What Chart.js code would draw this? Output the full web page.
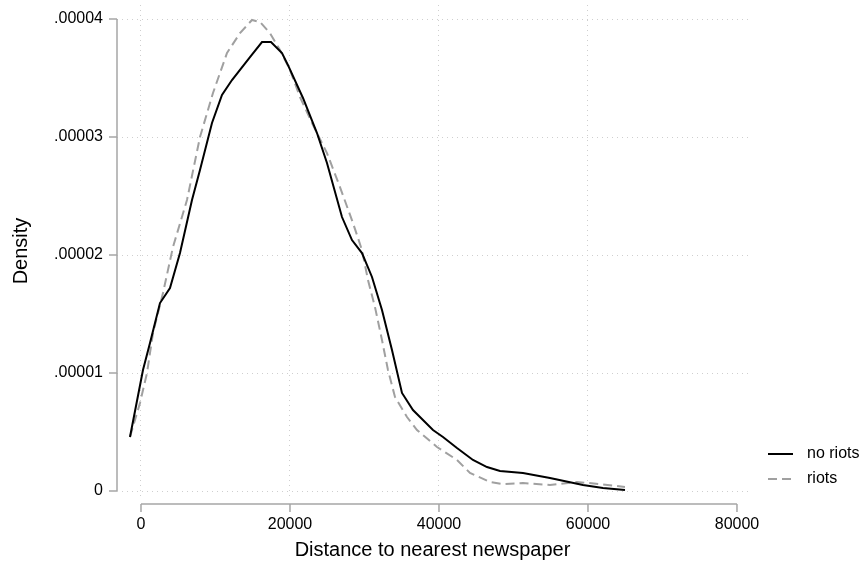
<!DOCTYPE html>
<html>
<head>
<meta charset="utf-8">
<script src="https://cdn.jsdelivr.net/npm/chart.js@4.4.1/dist/chart.umd.min.js"></script>
<style>
  html, body { margin: 0; padding: 0; background: #fff; }
  #wrap { width: 865px; height: 565px; }
</style>
</head>
<body>
<div id="wrap"><canvas id="grafico" width="865" height="565"></canvas></div>
<script>
// Dados (densidade kernel)
const distNoRiots = [-1477, 268, 1208, 2550, 3893, 5235, 6846, 7919, 9530, 10872, 12215, 14631, 16242, 17450,
  18926, 19732, 21745, 23624, 24966, 26980, 28322, 29664, 31007, 32349, 33691, 35034, 36510, 39195,
  40537, 42416, 44564, 46443, 48188, 51275, 54899, 59329, 62013, 64966];
const densNoRiots = [0.458, 1.025, 1.254, 1.593, 1.720, 2.017, 2.466, 2.720, 3.119, 3.356, 3.483, 3.678, 3.805, 3.805,
  3.712, 3.610, 3.331, 3.034, 2.780, 2.322, 2.127, 2.017, 1.814, 1.534, 1.195, 0.831, 0.686, 0.517,
  0.458, 0.364, 0.263, 0.203, 0.169, 0.153, 0.110, 0.051, 0.025, 0.008];

const distRiots = [-1477, -134, 805, 1611, 2953, 4295, 6174, 7919, 9664, 11544, 13289, 14899, 15973, 17315,
  18658, 20000, 21342, 23087, 24966, 26711, 28456, 29664, 30470, 31409, 32349, 33154, 34094, 35705,
  37047, 39732, 42416, 44161, 46846, 48591, 51275, 54899, 58523, 61611, 64966];
const densRiots = [0.458, 0.746, 1.000, 1.339, 1.678, 2.068, 2.466, 3.000, 3.373, 3.712, 3.881, 3.992, 3.975, 3.881,
  3.737, 3.568, 3.339, 3.102, 2.864, 2.576, 2.271, 2.042, 1.788, 1.559, 1.280, 1.025, 0.797, 0.627,
  0.517, 0.373, 0.263, 0.153, 0.076, 0.059, 0.068, 0.051, 0.076, 0.059, 0.034];

const xTicks = [0, 20000, 40000, 60000, 80000];
const yTicks = [0, 0.00001, 0.00002, 0.00003, 0.00004];

const seriesLabels = ['no riots', 'riots'];

// monta pares {x, y} (densidade em unidades de 1e-5)
function pontos(xs, ys) {
  return xs.map((x, i) => ({ x: x, y: ys[i] * 1e-5 }));
}

const FONTE = '"Liberation Sans", Arial, Helvetica, sans-serif';
const CINZA_EIXO = '#a6a6a6';
const CINZA_GRADE = '#cfcfcf';

// ==================== Eixos e legenda (estilo Stata) ====================
const eixosPlugin = {
  id: 'eixosStata',
  afterDraw(chart) {
    const { ctx, chartArea, scales } = chart;
    const xs = scales.x, ys = scales.y;
    ctx.save();
    ctx.strokeStyle = CINZA_EIXO;
    ctx.lineWidth = 1.5;
    ctx.setLineDash([]);

    // eixo y
    const yTop = ys.getPixelForValue(yTicks[yTicks.length - 1]);
    const yBot = ys.getPixelForValue(yTicks[0]);
    ctx.beginPath();
    ctx.moveTo(chartArea.left, yTop);
    ctx.lineTo(chartArea.left, yBot);
    yTicks.forEach(v => {
      const p = ys.getPixelForValue(v);
      ctx.moveTo(chartArea.left - 8, p);
      ctx.lineTo(chartArea.left, p);
    });
    ctx.stroke();

    // eixo x (deslocado abaixo da área)
    const yEixo = chartArea.bottom + 7;
    const xIni = xs.getPixelForValue(xTicks[0]);
    const xFim = xs.getPixelForValue(xTicks[xTicks.length - 1]);
    ctx.beginPath();
    ctx.moveTo(xIni, yEixo);
    ctx.lineTo(xFim, yEixo);
    xTicks.forEach(v => {
      const p = xs.getPixelForValue(v);
      ctx.moveTo(p, yEixo);
      ctx.lineTo(p, yEixo + 8);
    });
    ctx.stroke();

    // legenda
    const lx = 768, ly = 454, passo = 25;
    ctx.font = '16px ' + FONTE;
    ctx.textBaseline = 'middle';
    ctx.textAlign = 'left';
    chart.data.datasets.forEach((ds, i) => {
      const y = ly + i * passo;
      ctx.beginPath();
      ctx.strokeStyle = ds.borderColor;
      ctx.lineWidth = ds.borderWidth;
      ctx.setLineDash(ds.borderDash || []);
      ctx.moveTo(lx, y);
      ctx.lineTo(lx + 25, y);
      ctx.stroke();
      ctx.fillStyle = '#000';
      ctx.fillText(ds.label, lx + 39, y);
    });
    ctx.restore();
  }
};

const ctx = document.getElementById('grafico').getContext('2d');

new Chart(ctx, {
  type: 'line',
  data: {
    datasets: [{
      label: seriesLabels[0],
      data: pontos(distNoRiots, densNoRiots),
      borderColor: '#000000',
      borderWidth: 2,
      pointRadius: 0,
      tension: 0,
      fill: false
    }, {
      label: seriesLabels[1],
      data: pontos(distRiots, densRiots),
      borderColor: '#a0a0a0',
      borderWidth: 2,
      borderDash: [9, 5],
      pointRadius: 0,
      tension: 0,
      fill: false
    }]
  },
  options: {
    responsive: false,
    animation: false,
    devicePixelRatio: 1,
    layout: { padding: { left: 0, right: 117, top: 5, bottom: 0 } },
    plugins: {
      legend: { display: false },
      tooltip: { enabled: false }
    },
    scales: {
      x: {
        type: 'linear',
        min: -3220,
        max: 81480,
        afterBuildTicks: (scale) => { scale.ticks = xTicks.map(v => ({ value: v })); },
        afterFit: (scale) => {
          scale.height = 68;
          scale.paddingLeft = 0;
          scale.paddingRight = 0;
        },
        border: { display: false, dash: [1, 4] },
        grid: {
          drawTicks: false,
          color: (c) => (c.tick && c.tick.value === 80000) ? 'rgba(0,0,0,0)' : CINZA_GRADE,
          lineWidth: 1
        },
        ticks: {
          padding: 18,
          color: '#000',
          maxRotation: 0,
          font: { size: 16, family: FONTE },
          callback: (v) => String(v)
        },
        title: {
          display: true,
          text: 'Distance to nearest newspaper',
          color: '#000',
          font: { size: 20, family: FONTE },
          padding: { top: 0, bottom: 3 }
        }
      },
      y: {
        type: 'linear',
        min: -0.000000508,
        max: 0.00004119,
        afterBuildTicks: (scale) => { scale.ticks = yTicks.map(v => ({ value: v })); },
        afterFit: (scale) => {
          scale.width = 117;
          scale.paddingTop = 0;
          scale.paddingBottom = 0;
        },
        border: { display: false, dash: [1, 4] },
        grid: {
          drawTicks: false,
          color: CINZA_GRADE,
          lineWidth: 1
        },
        ticks: {
          padding: 14,
          color: '#000',
          font: { size: 16, family: FONTE },
          callback: (v) => v === 0 ? '0' : v.toFixed(5).replace(/^0/, '')
        },
        title: {
          display: true,
          text: 'Density',
          color: '#000',
          font: { size: 20, family: FONTE },
          padding: { top: 9, bottom: 0 }
        }
      }
    }
  },
  plugins: [eixosPlugin]
});
</script>
</body>
</html>
